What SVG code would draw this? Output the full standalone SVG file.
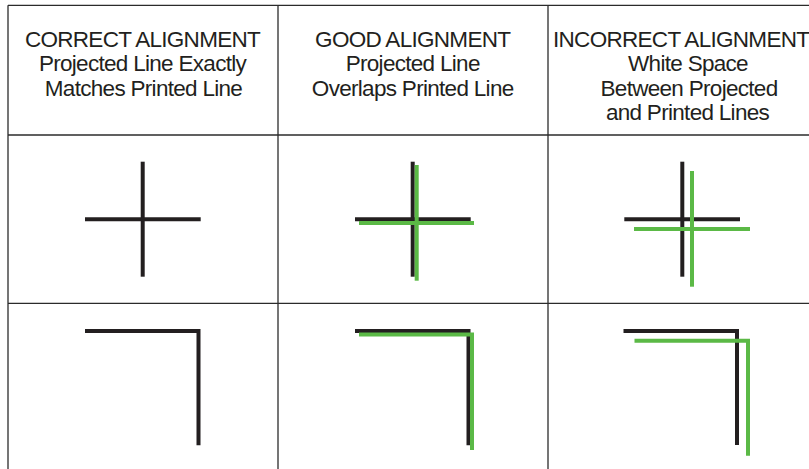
<svg xmlns="http://www.w3.org/2000/svg" width="809" height="469" viewBox="0 0 809 469">
<style>
.grid{stroke:#2b2b2b;stroke-width:1.3;fill:none}
.blk{stroke:#231f20;stroke-width:4;fill:none;stroke-linecap:butt;stroke-linejoin:miter}
.grn{stroke:#5bb946;stroke-width:4;fill:none;stroke-linecap:butt;stroke-linejoin:miter}
text{font-family:"Liberation Sans",Arial,sans-serif;font-size:22.5px;letter-spacing:-0.7px;fill:#231f20;text-anchor:middle}
</style>
<rect width="809" height="469" fill="#ffffff"/>
<g id="table" class="grid">
<line x1="8" y1="5.3" x2="809" y2="5.3"/>
<line x1="8" y1="135" x2="809" y2="135"/>
<line x1="8" y1="303.3" x2="809" y2="303.3"/>
<line x1="8" y1="5.3" x2="8" y2="469"/>
<line x1="278" y1="5.3" x2="278" y2="469"/>
<line x1="548" y1="5.3" x2="548" y2="469"/>
</g>
<g id="header-correct">
<text x="142.5" y="46.5">CORRECT ALIGNMENT</text>
<text x="142.5" y="71">Projected Line Exactly</text>
<text x="143.5" y="95.5">Matches Printed Line</text>
</g>
<g id="header-good">
<text x="412.7" y="46.5">GOOD ALIGNMENT</text>
<text x="412.7" y="71">Projected Line</text>
<text x="412.7" y="95.5">Overlaps Printed Line</text>
</g>
<g id="header-incorrect">
<text x="553" y="46.5" style="text-anchor:start">INCORRECT ALIGNMENT</text>
<text x="688" y="71">White Space</text>
<text x="689" y="95.5">Between Projected</text>
<text x="687.5" y="120">and Printed Lines</text>
</g>
<g id="cross-correct">
<line class="blk" x1="142.7" y1="161.7" x2="142.7" y2="276.7"/>
<line class="blk" x1="85" y1="219.3" x2="200.7" y2="219.3"/>
</g>
<g id="cross-good">
<line class="blk" x1="412.7" y1="161.7" x2="412.7" y2="276.7"/>
<line class="blk" x1="355" y1="219.3" x2="470.7" y2="219.3"/>
<line class="grn" x1="416.7" y1="165" x2="416.7" y2="280.7"/>
<line class="grn" x1="359" y1="223" x2="474" y2="223"/>
</g>
<g id="cross-incorrect">
<line class="blk" x1="682.3" y1="161.7" x2="682.3" y2="276.7"/>
<line class="blk" x1="624.3" y1="219.3" x2="740" y2="219.3"/>
<line class="grn" x1="692" y1="171" x2="692" y2="286.7"/>
<line class="grn" x1="634" y1="229" x2="750" y2="229"/>
</g>
<g id="corner-correct">
<path class="blk" d="M85 331 H198.5 V445.3"/>
</g>
<g id="corner-good">
<path class="blk" d="M355 331 H468.5 V445.3"/>
<path class="grn" d="M359 334.5 H472 V450"/>
</g>
<g id="corner-incorrect">
<path class="blk" d="M623.5 331 H737 V445"/>
<path class="grn" d="M634.5 340.7 H748 V455.7"/>
</g>
</svg>
